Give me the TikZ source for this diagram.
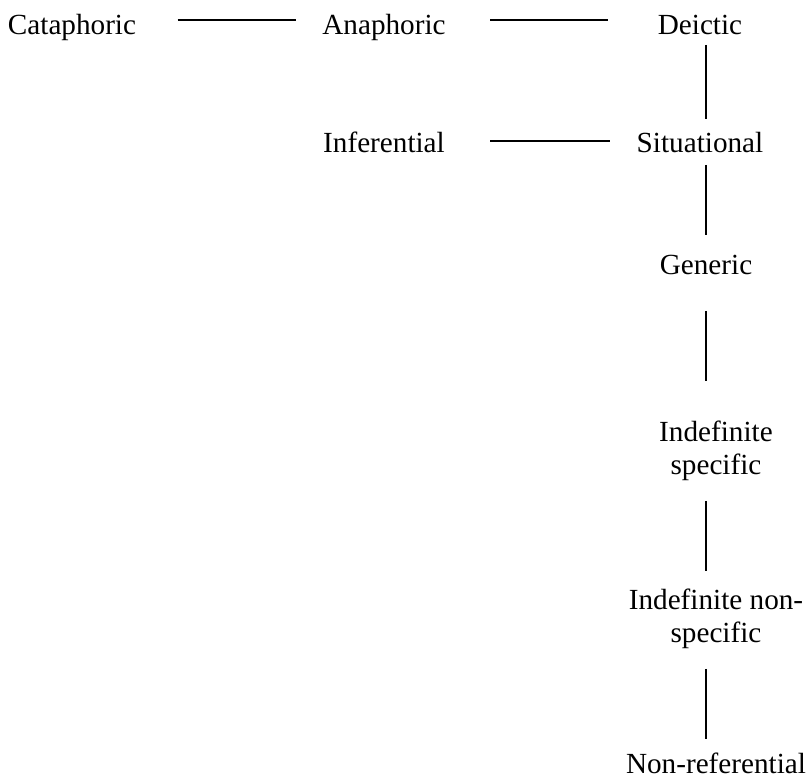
\documentclass[tikz,border=0pt]{standalone}
\usepackage{fontspec}
\setmainfont{Liberation Serif}
\usetikzlibrary{positioning}

\begin{document}
\begin{tikzpicture}[-,semithick,x=0.5pt,y=-0.5pt]
    \tikzstyle{term}=[inner sep=0pt, anchor=base, align=center, font=\fontsize{14.6}{16.5}\selectfont, text=black]
    \tikzstyle{link}=[draw=black, line width=0.7pt]

    \useasboundingbox (0,0) rectangle (810,780);

    % top row
    \node[term] (cata)  at (72,35)   {Cataphoric};
    \node[term] (ana)   at (384,35)  {Anaphoric};
    \node[term] (deic)  at (700,35)  {Deictic};
    % second row
    \node[term] (infer) at (384,153) {Inferential};
    \node[term] (situ)  at (700,153) {Situational};
    % the chain down
    \node[term] (gen)   at (706,275) {Generic};
    \node[term] (indsp) at (716,475) {Indefinite\\specific};
    \node[term] (indns) at (716,643) {Indefinite non-\\specific};
    \node[term] (nonref) at (716,774) {Non-referential};

    \path
     ([yshift=7.5pt]cata.base east)  edge[link, shorten <=20.5pt, shorten >=13pt] ([yshift=7.5pt]ana.base west)
     ([yshift=7.5pt]ana.base east)   edge[link, shorten <=22pt, shorten >=24.5pt] ([yshift=7.5pt]deic.base west)
     ([yshift=6pt]infer.base east)   edge[link, shorten <=22.5pt, shorten >=13pt] ([yshift=6pt]situ.base west)
     (deic.south -| gen.south)  edge[link, shorten <=4.5pt, shorten >=6.5pt] (situ.north -| gen.south)
     (situ.south -| gen.south)  edge[link, shorten <=5.5pt, shorten >=10pt]  (gen.north)
     (gen.south)                edge[link, shorten <=17.5pt, shorten >=20pt] (indsp.north -| gen.south)
     (indsp.south -| gen.south) edge[link, shorten <=9.5pt, shorten >=9pt]   (indns.north -| gen.south)
     (indns.south -| gen.south) edge[link, shorten <=9.5pt, shorten >=7pt]   (nonref.north -| gen.south)
     ;
\end{tikzpicture}
\end{document}
